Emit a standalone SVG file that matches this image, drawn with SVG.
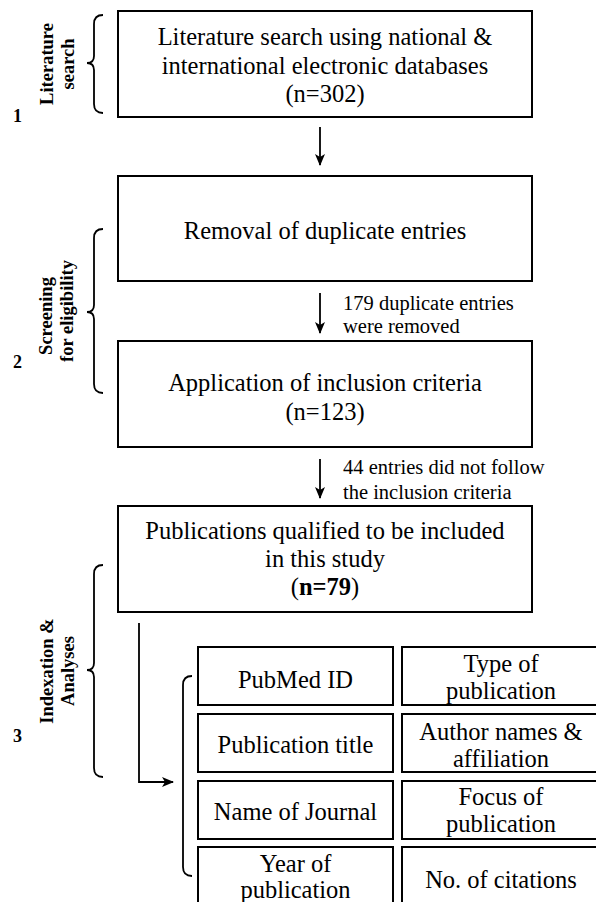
<svg xmlns="http://www.w3.org/2000/svg" width="596" height="902" viewBox="0 0 596 902">
<style>
.box{fill:#fff;stroke:#000;stroke-width:2}
.t{font-family:"Liberation Serif","Times New Roman",serif;font-size:24.5px;fill:#000;text-anchor:middle}
.a{font-family:"Liberation Serif","Times New Roman",serif;font-size:20.5px;fill:#000}
.lb{font-family:"Liberation Serif","Times New Roman",serif;font-size:18.5px;font-weight:bold;fill:#000;text-anchor:middle}
.num{font-family:"Liberation Serif","Times New Roman",serif;font-size:18px;font-weight:bold;fill:#000}
.br{fill:none;stroke:#000;stroke-width:1.8}
.ln{fill:none;stroke:#000;stroke-width:1.8}
</style>
<defs>
<marker id="ah" markerUnits="userSpaceOnUse" markerWidth="12" markerHeight="12" viewBox="0 0 12 12" refX="11" refY="6" orient="auto">
<path d="M0,1 L12,6 L0,11 L3,6 z" fill="#000"/>
</marker>
</defs>
<g id="stages">
<g id="stage1">
<path class="br" d="M103,15 Q94,15 94,24 V56 Q94,63 87,63 Q94,63 94,70 V104 Q94,113 103,113"/>
<text class="lb" transform="translate(53,64) rotate(-90)">Literature</text>
<text class="lb" transform="translate(74,64) rotate(-90)">search</text>
<text class="num" x="13" y="122">1</text>
</g>
<g id="stage2">
<path class="br" d="M103,229 Q94,229 94,238 V305 Q94,312 87,312 Q94,312 94,319 V384 Q94,393 103,393"/>
<text class="lb" transform="translate(52,316) rotate(-90)">Screening</text>
<text class="lb" transform="translate(73,311) rotate(-90)">for eligibility</text>
<text class="num" x="13" y="368">2</text>
</g>
<g id="stage3">
<path class="br" d="M103,565 Q94,565 94,574 V663 Q94,670 87,670 Q94,670 94,677 V768 Q94,777 103,777"/>
<text class="lb" transform="translate(53,671) rotate(-90)">Indexation &amp;</text>
<text class="lb" transform="translate(74,671) rotate(-90)">Analyses</text>
<text class="num" x="13" y="742">3</text>
</g>
</g>
<g id="n1">
<rect class="box" x="118" y="11" width="414" height="106"/>
<text class="t" x="325" y="45">Literature search using national &amp;</text>
<text class="t" x="325" y="73.5">international electronic databases</text>
<text class="t" x="325" y="102">(n=302)</text>
</g>
<g id="n2">
<rect class="box" x="118" y="176" width="414" height="105"/>
<text class="t" x="325" y="239">Removal of duplicate entries</text>
</g>
<g id="n3">
<rect class="box" x="118" y="341" width="414" height="106"/>
<text class="t" x="325" y="391">Application of inclusion criteria</text>
<text class="t" x="325" y="419.5">(n=123)</text>
</g>
<g id="n4">
<rect class="box" x="118" y="506" width="414" height="106"/>
<text class="t" x="325" y="539">Publications qualified to be included</text>
<text class="t" x="325" y="567">in this study</text>
<text class="t" x="325" y="595">(<tspan font-weight="bold">n=79</tspan>)</text>
</g>
<g id="grid">
<path class="br" d="M192,676 Q183,676 183,685 V867 Q183,876 192,876"/>
<g id="g1"><rect class="box" x="198" y="647" width="195" height="58"/><text class="t" x="295.5" y="688">PubMed ID</text></g>
<g id="g2"><rect class="box" x="402" y="647" width="200" height="58"/><text class="t" x="501" y="672">Type of</text><text class="t" x="501" y="699">publication</text></g>
<g id="g3"><rect class="box" x="198" y="714" width="195" height="58"/><text class="t" x="295.5" y="753">Publication title</text></g>
<g id="g4"><rect class="box" x="402" y="714" width="200" height="58"/><text class="t" x="501" y="740">Author names &amp;</text><text class="t" x="501" y="767">affiliation</text></g>
<g id="g5"><rect class="box" x="198" y="781" width="195" height="58"/><text class="t" x="295.5" y="820">Name of Journal</text></g>
<g id="g6"><rect class="box" x="402" y="781" width="200" height="58"/><text class="t" x="501" y="805">Focus of</text><text class="t" x="501" y="832">publication</text></g>
<g id="g7"><rect class="box" x="198" y="847" width="195" height="70"/><text class="t" x="295.5" y="872">Year of</text><text class="t" x="295.5" y="898">publication</text></g>
<g id="g8"><rect class="box" x="402" y="847" width="200" height="70"/><text class="t" x="501" y="888">No. of citations</text></g>
</g>
<g id="connectors">
<line class="ln" x1="320" y1="127" x2="320" y2="165" marker-end="url(#ah)"/>
<line class="ln" x1="320" y1="293" x2="320" y2="333" marker-end="url(#ah)"/>
<text class="a" x="343" y="310">179 duplicate entries</text>
<text class="a" x="343" y="333">were removed</text>
<line class="ln" x1="320" y1="459" x2="320" y2="498" marker-end="url(#ah)"/>
<text class="a" x="343" y="474">44 entries did not follow</text>
<text class="a" x="343" y="499">the inclusion criteria</text>
<path class="ln" d="M139,623 V782 H173" marker-end="url(#ah)"/>
</g>
</svg>
